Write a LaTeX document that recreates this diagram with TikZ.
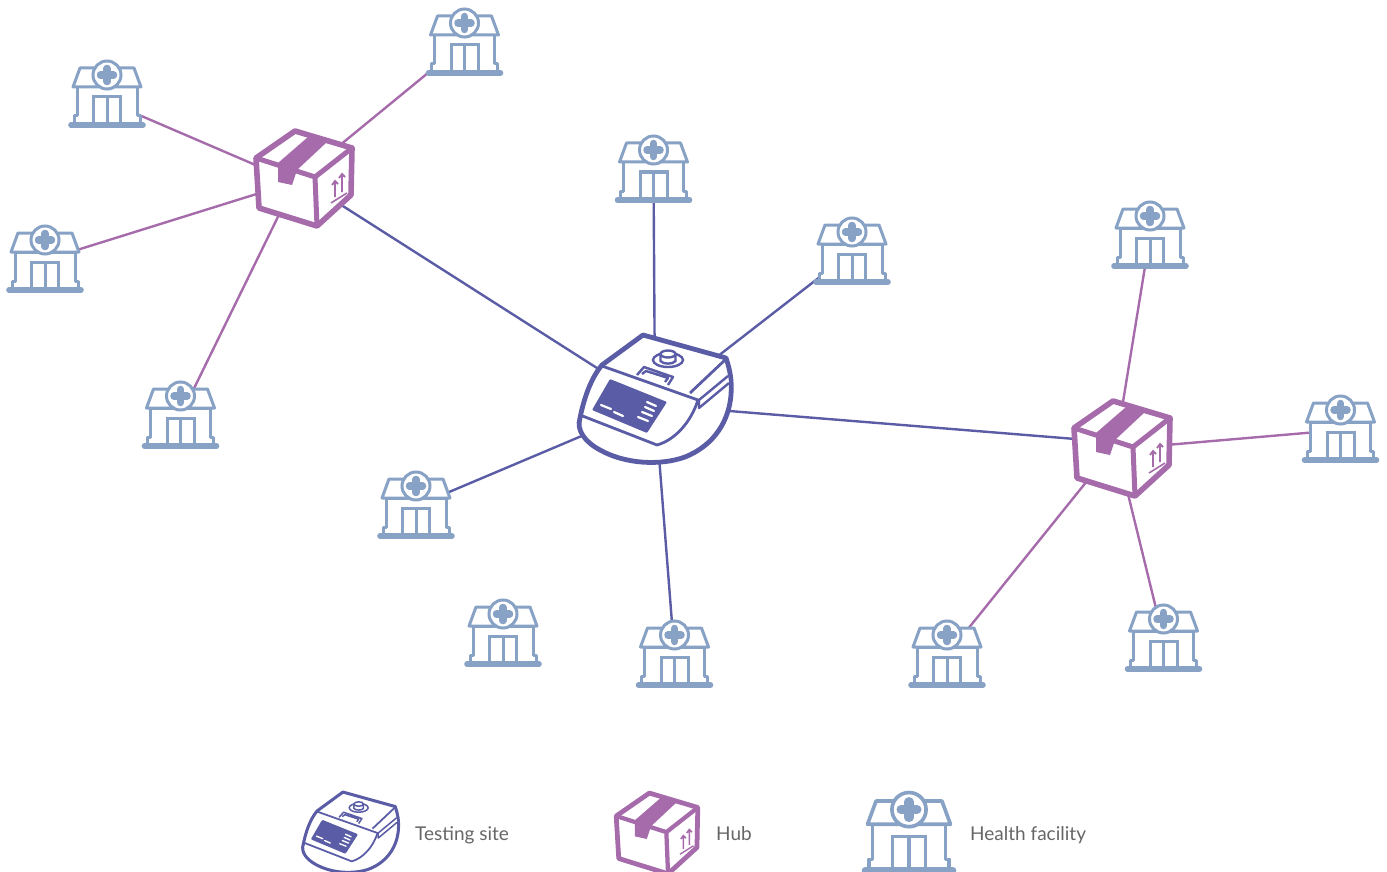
\documentclass[tikz,border=0pt]{standalone}
\usepackage{fontspec}
\setmainfont{Lato}
\usetikzlibrary{positioning}
\definecolor{testblue}{HTML}{5A5CA5}
\definecolor{hubpurple}{HTML}{A66BAB}
\definecolor{facblue}{HTML}{87A2C5}
\definecolor{labelgray}{HTML}{666666}
\newcommand{\iconscale}{1}
\tikzset{
	spot/.style={circle, inner sep=0pt, minimum size=20pt},
	facspot/.style={circle, inner sep=0pt, minimum size=12pt},
	testline/.style={draw=testblue, line width=2.4pt},
	hubline/.style={draw=hubpurple, line width=2.4pt},
	legendtext/.style={text=labelgray, font=\fontsize{19}{22}\selectfont, anchor=base west, inner sep=0pt},
	iconsize/.style={scale=#1, /utils/exec={\renewcommand{\iconscale}{#1}}},
	facility/.pic={
		\draw[facblue, line width=3pt*\iconscale, line join=round, fill=white] (-30,-8) -- (-30,21) -- (-33,21) -- (-33,29) -- (33,29) -- (33,21) -- (30,21) -- (30,-8) -- cycle;
		\draw[facblue, line width=3pt*\iconscale, line join=round, fill=white] (-34,-8) -- (-27,-27) -- (27,-27) -- (34,-8) -- cycle;
		\draw[facblue, line width=3pt*\iconscale, fill=white] (0,-20) circle (14);
		\draw[facblue, line width=3pt*\iconscale] (-13.5,29) -- (-13.5,2) -- (13.5,2) -- (13.5,29) (0,2) -- (0,29);
		\draw[facblue, line width=7.5pt*\iconscale, line cap=round] (-6.5,-20) -- (6.5,-20) (0,-26.5) -- (0,-13.5);
		\draw[facblue, line width=5.6pt*\iconscale, line cap=round] (-36,30) -- (36,30);
	},
	hubbox/.pic={
		\draw[hubpurple, line width=5.6pt*\iconscale, line join=round, fill=white] (-9,-47) -- (48,-30) -- (47,17) -- (13,48) -- (-45,30) -- (-48,-20) -- cycle;
		\draw[hubpurple, line width=5pt*\iconscale, line join=round] (-48,-20) -- (11,-1) -- (48,-30) (11,-1) -- (13,48);
		\fill[hubpurple] (4,-41) -- (23,-36) -- (-7,-8) -- (-12,7) -- (-26,4) -- (-26,-15) -- cycle;
		\draw[hubpurple, line width=1.6pt*\iconscale] (27,25) -- (43,15);
		\draw[hubpurple, line width=1.8pt*\iconscale] (31,19) -- (31,3) (28,7) -- (31,3) -- (34,6);
		\draw[hubpurple, line width=1.8pt*\iconscale] (38,14) -- (38,-4) (35,0) -- (38,-4) -- (41,-1);
	},
	thermo/.pic={
		\draw[testblue, line width=4.8pt*\iconscale, line join=round, fill=white] (-53,-35) -- (-12,-65) -- (71,-42) .. controls (75,-30) and (77,-20) .. (76,-5) .. controls (74,20) and (60,45) .. (30,57) .. controls (5,66) and (-30,64) .. (-55,50) .. controls (-70,42) and (-79,30) .. (-75,18) .. controls (-71,-2) and (-64,-22) .. (-53,-35) -- cycle;
		\draw[testblue, line width=2.8pt*\iconscale, line join=round] (-53,-34) -- (43,0) .. controls (36,22) and (20,40) .. (2,45) -- (-75,15);
		\draw[testblue, line width=2.8pt*\iconscale, line join=round] (71,-41) -- (35,-7);
		\draw[testblue, line width=2.4pt*\iconscale, line join=round, fill=white] (73,-24) -- (44,0) -- (44,8) -- (74,-17);
		\fill[testblue, rounded corners=1pt] (-45,-21) -- (12,2) -- (-8,33) -- (-63,10) -- cycle;
		\draw[white, line width=2.2pt*\iconscale, line cap=round] (-54,5) -- (-44,9) (-41,12) -- (-32,16) (-8,2) -- (1,6) (-10,7) -- (-1,11) (-13,12) -- (-3,16) (-17,17) -- (-7,21);
		\draw[testblue, line width=2.4pt*\iconscale, line join=round] (-18,-25) -- (-11,-33) -- (18,-23) -- (13,-15) (-13,-26) -- (-9,-29) -- (13,-22) -- (10,-18);
		\draw[testblue, line width=2.4pt*\iconscale] (13,-40) ellipse (15 and 7);
		\draw[testblue, line width=2.4pt*\iconscale, fill=white] (5.5,-46) -- (5.5,-39) .. controls (8,-35.5) and (18,-35.5) .. (20.5,-39) -- (20.5,-46);
		\draw[testblue, line width=2.4pt*\iconscale, fill=white] (13,-46) ellipse (7.5 and 3.5);
	}
}
\begin{document}
\begin{tikzpicture}[x=1pt, y=-1pt]
	\useasboundingbox (0,0) rectangle (1387,872);
	\node[spot] (machine) at (655,405) {};
	\node[spot] (hubA) at (295,182) {};
	\node[spot] (hubB) at (1116,445) {};
	\node[facspot] (facA) at (107,95) {};
	\node[facspot] (facB) at (464.5,43) {};
	\node[facspot] (facC) at (45,260) {};
	\node[facspot] (facD) at (180.5,416) {};
	\node[facspot] (facE) at (416,506) {};
	\node[facspot] (facF) at (503,634) {};
	\node[facspot] (facG) at (674.5,655) {};
	\node[facspot] (facH) at (653.5,170) {};
	\node[facspot] (facI) at (852,252) {};
	\node[facspot] (facJ) at (1150,236) {};
	\node[facspot] (facK) at (1340.5,430) {};
	\node[facspot] (facL) at (1163.5,639) {};
	\node[facspot] (facM) at (947,655) {};
	\draw[testline]
	(machine) edge (hubA.east)
	(machine) edge (hubB.160)
	(machine) edge (facE)
	(machine) edge (facG)
	(machine) edge (facH)
	(machine) edge (facI);
	\draw[hubline]
	(hubA) edge (facA.south)
	(hubA) edge (facB)
	(hubA) edge (facC)
	(hubA) edge (facD)
	(hubB) edge (facJ)
	(hubB.-20) edge (facK)
	(hubB) edge (facL)
	(hubB) edge (facM);
	\pic at (655,400) {thermo};
	\pic at (304,178) {hubbox};
	\pic at (1122,448) {hubbox};
	\pic at (facA) {facility};
	\pic at (facB) {facility};
	\pic at (facC) {facility};
	\pic at (facD) {facility};
	\pic at (facE) {facility};
	\pic at (facF) {facility};
	\pic at (facG) {facility};
	\pic at (facH) {facility};
	\pic at (facI) {facility};
	\pic at (facJ) {facility};
	\pic at (facK) {facility};
	\pic at (facL) {facility};
	\pic at (facM) {facility};
	% legend
	\pic[iconsize=.63] at (350.5,833) {thermo};
	\pic[iconsize=.85] at (657,833) {hubbox};
	\pic[iconsize=1.22] at (909,834) {facility};
	\node[legendtext] (labtest) at (415,840) {Testing site};
	\node[legendtext] (labhub) at (716,840) {Hub};
	\node[legendtext] (labfac) at (970,840) {Health facility};
\end{tikzpicture}
\end{document}
